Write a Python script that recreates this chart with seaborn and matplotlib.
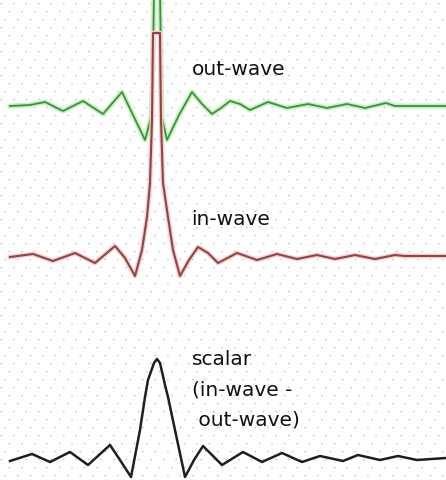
import numpy as np
import pandas as pd
import seaborn as sns
import matplotlib
matplotlib.use("Agg")
import matplotlib.pyplot as plt
import matplotlib.patheffects as pe

# ---- data (x position, screen-y of the trace) ----
out_x = [10, 30, 45, 63, 83, 103, 122, 133, 145, 151, 153, 154, 160, 161, 162, 167, 179, 192,
         202, 212, 221, 230, 240, 250, 259, 268, 287, 308, 327, 347, 365, 386, 395, 446]
out_y = [106, 105, 102, 111, 101, 114, 92, 115, 140, 118, 60, -10, -10, 60, 118, 140, 115, 92,
         104, 114, 108, 101, 104, 110, 106, 102, 108, 104, 108, 104, 108, 103, 106, 106]

in_x = [10, 33, 53, 75, 95, 115, 125, 135, 142, 147, 150, 152, 153, 160, 161, 163, 168, 173,
        180, 189, 198, 208, 218, 237, 257, 277, 297, 317, 335, 355, 375, 395, 405, 446]
in_y = [257, 254, 261, 253, 263, 246, 258, 276, 250, 217, 183, 120, 33, 33, 120, 183, 217, 250,
        276, 260, 247, 253, 263, 253, 260, 254, 259, 255, 259, 255, 259, 255, 256, 256]

sc_x = [10, 32, 50, 70, 88, 110, 120, 131, 140, 145, 148, 154, 157, 160, 165, 168, 175, 185,
        194, 203, 222, 243, 262, 282, 302, 320, 343, 358, 380, 398, 417, 446]
sc_y = [461, 454, 462, 452, 465, 445, 460, 477, 430, 397, 380, 363, 359, 363, 385, 397, 430, 477,
        460, 446, 465, 452, 462, 453, 462, 456, 461, 455, 460, 456, 460, 458]

labels = ["out-wave", "in-wave", "scalar", "(in-wave -", " out-wave)"]

W, H = 446, 480
fig = plt.figure(figsize=(W / 100, H / 100), dpi=100)
ax = fig.add_axes([0, 0, 1, 1])
ax.set_xlim(0, W)
ax.set_ylim(H, 0)

# dotted background
for i, y in enumerate(np.arange(3, H, 8)):
    ax.axhline(y, color="#bdbdbd", lw=1.0, ls=((i % 3) * 3, (1, 8)), zorder=0)

df_out = pd.DataFrame({"x": out_x, "y": out_y})
df_in = pd.DataFrame({"x": in_x, "y": in_y})
df_sc = pd.DataFrame({"x": sc_x, "y": sc_y})

sns.lineplot(data=df_out, x="x", y="y", ax=ax, color="#3c913c", lw=1.3, sort=False,
             estimator=None, path_effects=[pe.Stroke(linewidth=3.6, foreground="#c4f2bf"), pe.Normal()],
             zorder=2)
sns.lineplot(data=df_in, x="x", y="y", ax=ax, color="#8a3434", lw=1.5, sort=False,
             estimator=None, path_effects=[pe.Stroke(linewidth=3.4, foreground="#f4d0d0"), pe.Normal()],
             zorder=3, alpha=0.9)
sns.lineplot(data=df_sc, x="x", y="y", ax=ax, color="#1e1e1e", lw=1.8, sort=False,
             estimator=None, zorder=3)

ax.set_xlim(0, W)
ax.set_ylim(H, 0)
ax.axis("off")

fs = 14.5
tc = "#111111"
ax.text(192, 75, labels[0], fontsize=fs, color=tc, va="baseline", ha="left")
ax.text(191, 225, labels[1], fontsize=fs, color=tc, va="baseline", ha="left")
ax.text(192, 365, labels[2], fontsize=fs, color=tc, va="baseline", ha="left")
ax.text(192, 395, labels[3], fontsize=fs, color=tc, va="baseline", ha="left")
ax.text(192, 425, labels[4], fontsize=fs, color=tc, va="baseline", ha="left")

fig.savefig("out.png", dpi=100, facecolor="white")
